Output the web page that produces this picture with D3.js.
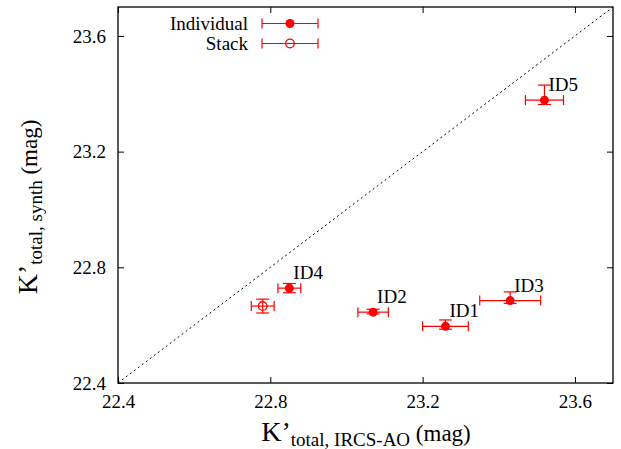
<!DOCTYPE html>
<html>
<head>
<meta charset="utf-8">
<script src="https://cdn.jsdelivr.net/npm/d3@7/dist/d3.min.js"></script>
<style>
  html, body { margin: 0; padding: 0; background: #fff; }
  svg { display: block; }
  text { font-family: "Liberation Serif", "Times New Roman", serif; fill: #000; }
</style>
</head>
<body>
<svg id="chart" width="621" height="449"></svg>
<script>
// ---- data ----
const names   = ["ID1", "ID2", "ID3", "ID4", "ID5"];
const xIRCS   = [23.26, 23.07, 23.43, 22.85, 23.52];
const xErr    = [0.06, 0.04, 0.08, 0.03, 0.05];
const ySynth  = [22.596, 22.645, 22.685, 22.728, 23.378];
const yErrUp  = [0.022, 0.010, 0.030, 0.016, 0.052];
const yErrDn  = [0.010, 0.006, 0.010, 0.016, 0.015];

const stackX    = [22.78];
const stackXErr = [0.03];
const stackY    = [22.666];
const stackYErr = [0.024];

const xTicks = [22.4, 22.8, 23.2, 23.6];
const yTicks = [22.4, 22.8, 23.2, 23.6];
const domainXY = [22.4, 23.7];
const legendLabels = ["Individual", "Stack"];

// ---- layout ----
const svg = d3.select("#chart");
const L = 118, R = 613, T = 7, B = 383;
const x = d3.scaleLinear().domain(domainXY).range([L, R]);
const y = d3.scaleLinear().domain(domainXY).range([B, T]);
const red = "#ff0000";

// diagonal y = x
svg.append("line")
  .attr("x1", x(domainXY[0])).attr("y1", y(domainXY[0]))
  .attr("x2", x(domainXY[1])).attr("y2", y(domainXY[1]))
  .attr("stroke", "#000").attr("stroke-width", 1)
  .attr("stroke-dasharray", "2,3");

// axes (inside ticks, mirrored)
const tickLen = 6;
const fmt = d3.format(".1f");
const gB = svg.append("g").attr("transform", `translate(0,${B})`)
  .call(d3.axisBottom(x).tickValues(xTicks).tickFormat(fmt).tickSizeInner(-tickLen).tickSizeOuter(0).tickPadding(12));
const gT = svg.append("g").attr("transform", `translate(0,${T})`)
  .call(d3.axisTop(x).tickValues(xTicks).tickFormat("").tickSizeInner(-tickLen).tickSizeOuter(0));
const gL = svg.append("g").attr("transform", `translate(${L},0)`)
  .call(d3.axisLeft(y).tickValues(yTicks).tickFormat(fmt).tickSizeInner(-tickLen).tickSizeOuter(0).tickPadding(12));
const gR = svg.append("g").attr("transform", `translate(${R},0)`)
  .call(d3.axisRight(y).tickValues(yTicks).tickFormat("").tickSizeInner(-tickLen).tickSizeOuter(0));
[gB, gT, gL, gR].forEach(g => {
  g.select(".domain").remove();
  g.selectAll(".tick line").attr("stroke", "#000").attr("stroke-width", 1);
  g.selectAll(".tick text").attr("font-family", "Liberation Serif").attr("font-size", 19).attr("fill", "#000");
});
// frame
svg.append("rect").attr("x", L).attr("y", T).attr("width", R - L).attr("height", B - T)
  .attr("fill", "none").attr("stroke", "#000").attr("stroke-width", 1.3);

// error bars helper
function errBar(g, cx, cy, x0, x1, y0, y1) {
  const cap = 5, capY = 6.5;
  g.append("line").attr("x1", x0).attr("x2", x1).attr("y1", cy).attr("y2", cy);
  g.append("line").attr("x1", x0).attr("x2", x0).attr("y1", cy - cap).attr("y2", cy + cap);
  g.append("line").attr("x1", x1).attr("x2", x1).attr("y1", cy - cap).attr("y2", cy + cap);
  g.append("line").attr("x1", cx).attr("x2", cx).attr("y1", y0).attr("y2", y1);
  g.append("line").attr("x1", cx - capY).attr("x2", cx + capY).attr("y1", y0).attr("y2", y0);
  g.append("line").attr("x1", cx - capY).attr("x2", cx + capY).attr("y1", y1).attr("y2", y1);
}

const gp = svg.append("g").attr("stroke", red).attr("stroke-width", 1.2);
names.forEach((n, i) => {
  const cx = x(xIRCS[i]), cy = y(ySynth[i]);
  errBar(gp, cx, cy, x(xIRCS[i] - xErr[i]), x(xIRCS[i] + xErr[i]),
         y(ySynth[i] + yErrUp[i]), y(ySynth[i] - yErrDn[i]));
  svg.append("circle").attr("cx", cx).attr("cy", cy).attr("r", 4.5).attr("fill", red);
  svg.append("text").attr("x", cx + 4).attr("y", cy - 9).attr("font-size", 19).text(n);
});
stackX.forEach((v, i) => {
  const cx = x(v), cy = y(stackY[i]);
  errBar(gp, cx, cy, x(v - stackXErr[i]), x(v + stackXErr[i]),
         y(stackY[i] + stackYErr[i]), y(stackY[i] - stackYErr[i]));
  svg.append("circle").attr("cx", cx).attr("cy", cy).attr("r", 4.3)
    .attr("fill", "none").attr("stroke", red).attr("stroke-width", 1.3);
});

// legend
legendLabels.forEach((lab, i) => {
  const ly = 23.5 + i * 20;
  const g = svg.append("g").attr("stroke", red).attr("stroke-width", 1.2);
  g.append("line").attr("x1", 262).attr("x2", 318).attr("y1", ly).attr("y2", ly);
  g.append("line").attr("x1", 262).attr("x2", 262).attr("y1", ly - 5).attr("y2", ly + 5);
  g.append("line").attr("x1", 318).attr("x2", 318).attr("y1", ly - 5).attr("y2", ly + 5);
  if (i === 0) svg.append("circle").attr("cx", 290).attr("cy", ly).attr("r", 4.5).attr("fill", red);
  else svg.append("circle").attr("cx", 290).attr("cy", ly).attr("r", 4.3).attr("fill", "none").attr("stroke", red).attr("stroke-width", 1.3);
  svg.append("text").attr("x", 248).attr("y", ly + 6.5).attr("text-anchor", "end")
    .attr("font-size", 19).text(lab);
});

// axis titles
const xt = svg.append("text").attr("x", 366).attr("y", 441).attr("text-anchor", "middle");
xt.append("tspan").attr("font-size", 28).text("K’");
xt.append("tspan").attr("font-size", 19).attr("dy", 5).text("total, IRCS-AO");
xt.append("tspan").attr("font-size", 23).attr("dy", -5).text(" (mag)");

const yt = svg.append("text").attr("transform", "translate(37,207) rotate(-90)").attr("text-anchor", "middle");
yt.append("tspan").attr("font-size", 28).text("K’");
yt.append("tspan").attr("font-size", 19).attr("dy", 5).text("total, synth");
yt.append("tspan").attr("font-size", 23).attr("dy", -5).text(" (mag)");
</script>
</body>
</html>
